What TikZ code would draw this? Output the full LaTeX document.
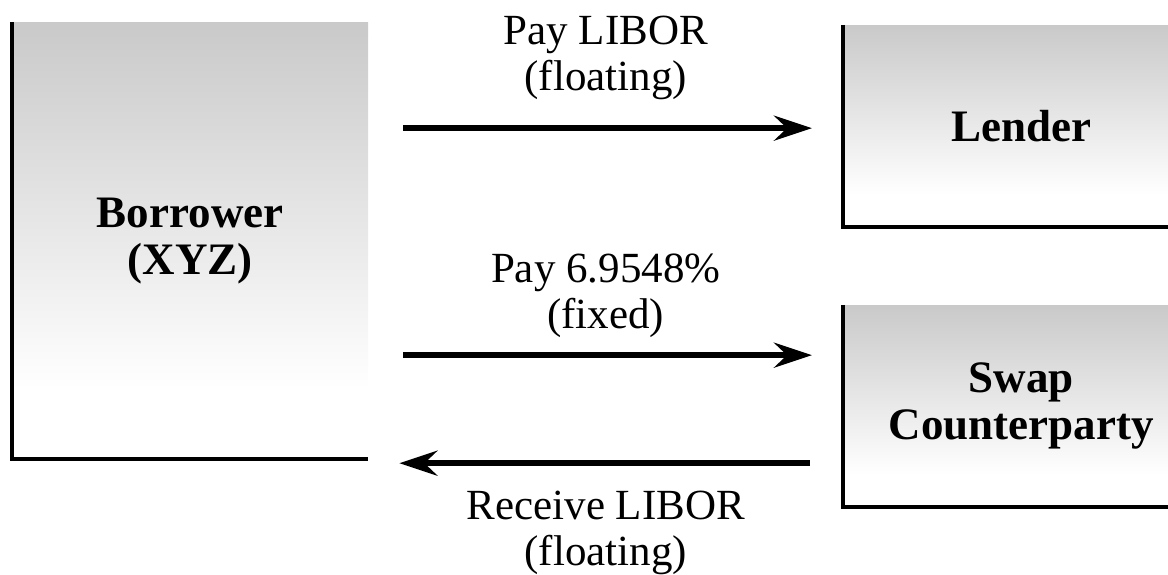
\documentclass[tikz,border=0pt]{standalone}
\usepackage{fontspec}
\setmainfont{Liberation Serif}
\usetikzlibrary{arrows.meta,positioning}

\definecolor{boxtop}{gray}{0.79}
\pgfdeclareverticalshading{boxfade}{100bp}{color(0bp)=(white); color(33bp)=(white); color(75bp)=(boxtop); color(100bp)=(boxtop)}

\begin{document}
\begin{tikzpicture}[
        x=1pt, y=1pt,
        party/.style={rectangle, inner sep=0pt, shade, shading=boxfade, align=center,
            font=\fontsize{45}{47}\selectfont\bfseries, minimum width=356pt, anchor=north west},
        edge/.style={line width=4pt, line join=miter},
        flow/.style={line width=5.5pt, -{Stealth[length=38pt, width=25pt, inset=13pt]}},
        note/.style={inner sep=0pt, align=center, font=\fontsize{43}{46}\selectfont}
    ]
    \clip (0,0) rectangle (1168,575);

    % Nodes
    \node[party, minimum height=437pt] (borrower) at (12,553) {Borrower\\(XYZ)};
    \node[party, minimum height=202pt] (lender) at (843,550) {Lender};
    \node[party, minimum height=202pt] (swap) at (843,270) {Swap\\Counterparty};

    % open boxes: left and bottom side only
    \foreach \b in {borrower, lender, swap}
        \draw[edge] (\b.north west) -- (\b.south west) -- (\b.south east);

    % Payments
    \coordinate (libor out) at ([yshift=-2pt]lender.west);
    \coordinate (fixed out) at ([yshift=51pt]swap.west);
    \coordinate (libor in) at ([yshift=-57pt]swap.west);

    \draw[flow, shorten <=35pt, shorten >=31pt] (borrower.east |- libor out) -- (libor out)
        node[note, midway, above=26pt] {Pay LIBOR\\(floating)};
    \draw[flow, shorten <=35pt, shorten >=31pt] (borrower.east |- fixed out) -- (fixed out)
        node[note, midway, above=15pt] {Pay 6.9548\%\\(fixed)};
    \draw[flow, shorten <=33pt, shorten >=31pt] (libor in) -- (borrower.east |- libor in)
        node[note, midway, below=25pt] {Receive LIBOR\\(floating)};
\end{tikzpicture}
\end{document}
